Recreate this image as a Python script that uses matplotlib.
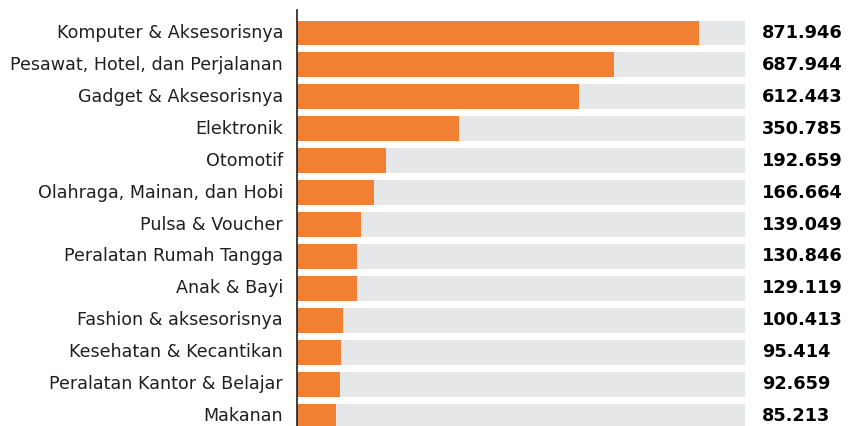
import matplotlib
matplotlib.use('Agg')
import matplotlib.pyplot as plt

# Data
categories = [
    "Komputer & Aksesorisnya",
    "Pesawat, Hotel, dan Perjalanan",
    "Gadget & Aksesorisnya",
    "Elektronik",
    "Otomotif",
    "Olahraga, Mainan, dan Hobi",
    "Pulsa & Voucher",
    "Peralatan Rumah Tangga",
    "Anak & Bayi",
    "Fashion & aksesorisnya",
    "Kesehatan & Kecantikan",
    "Peralatan Kantor & Belajar",
    "Makanan",
]
values = [871946, 687944, 612443, 350785, 192659, 166664, 139049,
          130846, 129119, 100413, 95414, 92659, 85213]
value_labels = ["871.946", "687.944", "612.443", "350.785", "192.659", "166.664",
                "139.049", "130.846", "129.119", "100.413", "95.414", "92.659", "85.213"]
track_max = 972000

orange = '#F28033'
gray = '#E6E7E8'

fig = plt.figure(figsize=(8.5, 4.26), dpi=100)
ax = fig.add_axes([297 / 850, 0.0, (745 - 297) / 850, 1 - 10 / 426])

y = list(range(len(categories)))
ax.barh(y, [track_max] * len(y), height=0.78, color=gray, zorder=1)
ax.barh(y, values, height=0.78, color=orange, zorder=2)

ax.set_xlim(0, track_max)
ax.set_ylim(12.31, -0.72)

# labels left and values right
for i, cat in enumerate(categories):
    ax.text(-0.031 * track_max, i, cat, ha='right', va='center',
            fontsize=12.6, color='#231F20', family='DejaVu Sans')
    ax.text(1.038 * track_max, i, value_labels[i], ha='left', va='center',
            fontsize=12.8, fontweight='bold', color='#000000')

ax.set_xticks([])
ax.set_yticks([])
for s in ['top', 'right', 'bottom']:
    ax.spines[s].set_visible(False)
ax.spines['left'].set_color('#231F20')
ax.spines['left'].set_linewidth(1.2)
ax.spines['left'].set_zorder(3)

fig.savefig('out.png', dpi=100)
